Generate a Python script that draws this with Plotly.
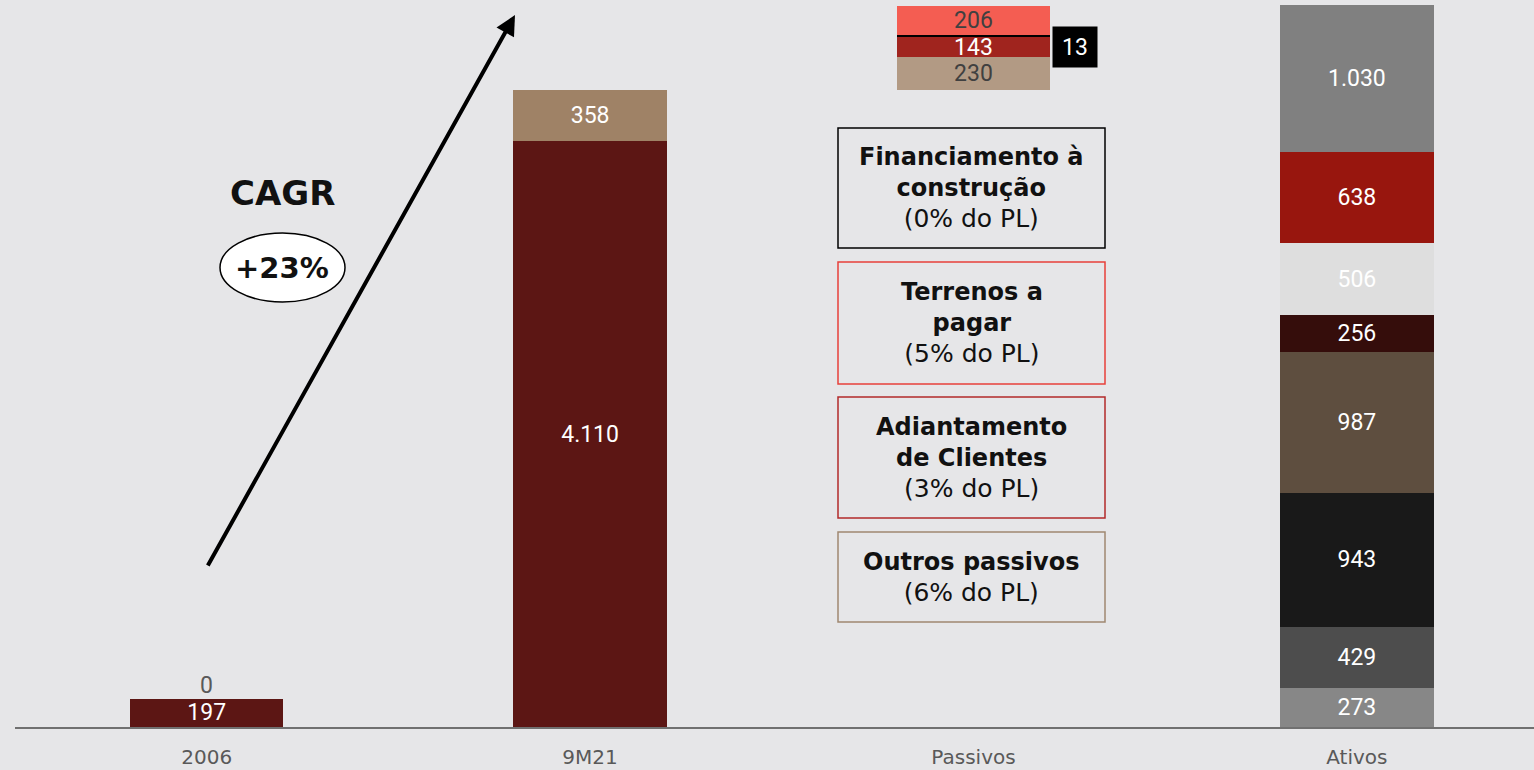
import plotly.graph_objects as go

# categories and values
categorias = ["2006", "9M21", "Passivos", "Ativos"]

pl_base = [197, 4110, None, None]
pl_topo = [0, 358, None, None]

passivos_base = [None, None, 4468, None]
outros_passivos = [None, None, 230, None]
adiantamento = [None, None, 143, None]
financiamento = [None, None, 13, None]
terrenos = [None, None, 206, None]

ativos_valores = [273, 429, 943, 987, 256, 506, 638, 1030]
ativos_cores = ["#878787", "#4D4D4D", "#191919", "#5E4E3F",
                "#350D0B", "#DEDEDE", "#98160E", "#808080"]

caixas = [
    ("Financiamento à<br>construção", "(0% do PL)", "#000000"),
    ("Terrenos a<br>pagar", "(5% do PL)", "#E8403A"),
    ("Adiantamento<br>de Clientes", "(3% do PL)", "#B22A2A"),
    ("Outros passivos", "(6% do PL)", "#A08870"),
]

BG = "#E6E6E8"
W, H = 1534, 770
L, B = 15, 43
PW, PH = W - L, H - B
NUM_FONT = dict(size=23, family="Roboto")


def fmt(v):
    if v is None:
        return ""
    return f"{v:,}".replace(",", ".")


def px(x):
    return (x - L) / PW


def py(y):
    return (PH - y) / PH


def barra(valores, cor, cor_txt="white", mostrar=True):
    return go.Bar(
        x=categorias, y=valores, marker=dict(color=cor, line=dict(width=0)),
        text=[fmt(v) if (mostrar and v) else "" for v in valores],
        textposition="inside", insidetextanchor="middle", textangle=0,
        textfont=dict(color=cor_txt, **NUM_FONT),
        width=0.4, hoverinfo="skip", showlegend=False,
    )


fig = go.Figure()
fig.add_trace(barra(passivos_base, "rgba(0,0,0,0)", mostrar=False))
fig.add_trace(barra(pl_base, "#5C1614"))
fig.add_trace(barra(pl_topo, "#9F8266"))
fig.add_trace(barra(outros_passivos, "#B29A84", "#404040"))
fig.add_trace(barra(adiantamento, "#A0241E"))
fig.add_trace(barra(financiamento, "#000000", mostrar=False))
fig.add_trace(barra(terrenos, "#F45D52", "#404040"))
for v, c in zip(ativos_valores, ativos_cores):
    fig.add_trace(barra([None, None, None, v], c))

anots = []
# "0" label on top of 2006 (slightly lifted so it doesn't sit on 197)
anots.append(dict(x=0, y=pl_base[0] + pl_topo[0], text=fmt(pl_topo[0]),
                  showarrow=False, xanchor="center", yanchor="bottom", yshift=-2,
                  font=dict(color="#595959", **NUM_FONT)))
# 13 label box
anots.append(dict(x=px(1075), y=py(47), xref="paper", yref="paper",
                  xanchor="center", yanchor="middle",
                  text=fmt(financiamento[2]), showarrow=False,
                  bgcolor="#000000", width=42, height=38,
                  font=dict(color="white", **NUM_FONT)))
# CAGR
anots.append(dict(x=px(282), y=py(193), xref="paper", yref="paper",
                  xanchor="center", yanchor="middle",
                  text="<b>CAGR</b>", showarrow=False,
                  font=dict(size=34, color="#111111", family="DejaVu Sans")))
anots.append(dict(x=px(282), y=py(268), xref="paper", yref="paper",
                  xanchor="center", yanchor="middle",
                  text="<b>+23%</b>", showarrow=False,
                  font=dict(size=29, color="#111111", family="DejaVu Sans")))
# arrow
anots.append(dict(x=px(515), y=py(15), xref="paper", yref="paper",
                  ax=207 - 515, ay=567 - 15, text="", showarrow=True,
                  arrowhead=2, arrowsize=1, arrowwidth=4, arrowcolor="#000000"))

shapes = [dict(type="circle", xref="paper", yref="paper",
               x0=px(220), x1=px(345), y0=py(302), y1=py(233),
               fillcolor="white", line=dict(color="#000000", width=1.5), layer="below")]

caixa_y = [(128, 248), (262, 384), (397, 518), (532, 622)]
for (titulo, pct, cor), (y0, y1) in zip(caixas, caixa_y):
    shapes.append(dict(type="rect", xref="paper", yref="paper",
                       x0=px(838), x1=px(1105), y0=py(y1), y1=py(y0),
                       line=dict(color=cor, width=1.5), fillcolor="rgba(0,0,0,0)"))
    anots.append(dict(x=px(971.5), y=py((y0 + y1) / 2), xref="paper", yref="paper",
                      xanchor="center", yanchor="middle",
                      text=f"<b>{titulo}</b><br><span style='font-size:25px'>{pct}</span>",
                      showarrow=False, align="center",
                      font=dict(size=24, color="#111111", family="DejaVu Sans")))

fig.update_layout(
    width=W, height=H,
    barmode="stack",
    paper_bgcolor=BG, plot_bgcolor=BG,
    margin=dict(l=L, r=0, t=0, b=B),
    uniformtext=dict(minsize=23, mode="show"),
    xaxis=dict(type="category", range=[-0.5, 3.462], showgrid=False,
               showline=True, linecolor="#707070", linewidth=2,
               ticks="", ticklabelstandoff=11,
               tickfont=dict(size=20, color="#595959", family="DejaVu Sans")),
    yaxis=dict(range=[0, 5100], visible=False, showgrid=False, zeroline=False),
    annotations=anots, shapes=shapes,
)

fig.write_html("out.html", config={"displayModeBar": False},
               post_script="document.body.style.margin='0';")
